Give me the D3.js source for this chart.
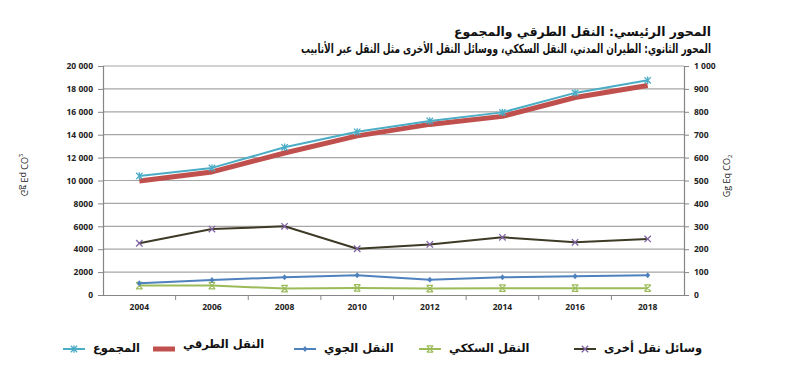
<!DOCTYPE html>
<html>
<head>
<meta charset="utf-8">
<script src="https://cdn.jsdelivr.net/npm/d3@7"></script>
<style>
  body { margin: 0; background: #fff; }
  svg { display: block; font-family: "DejaVu Sans", "Open Sans", sans-serif; }
  .tick text { font-family: "Open Sans", "DejaVu Sans", sans-serif; font-weight: bold; fill: #222; }
</style>
</head>
<body>
<svg id="chart" width="808" height="373"></svg>
<script>
// chart data
var years = ["2004", "2006", "2008", "2010", "2012", "2014", "2016", "2018"];
// primary axis (0 - 20 000)
var totalValues = [10400, 11100, 12900, 14250, 15200, 15950, 17650, 18750];
var roadValues = [9950, 10750, 12400, 13900, 14900, 15600, 17250, 18300];
// secondary axis (0 - 1 000)
var airValues = [51, 66, 77, 86, 67, 77, 82, 86];
var railValues = [41, 41, 28, 31, 28, 30, 30, 30];
var otherValues = [226, 288, 300, 202, 221, 252, 230, 245];

var leftTicks = [0, 2000, 4000, 6000, 8000, 10000, 12000, 14000, 16000, 18000, 20000];
var leftTickLabels = ["0", "2000", "4000", "6000", "8000", "10 000", "12 000", "14 000", "16 000", "18 000", "20 000"];
var rightTicks = [0, 100, 200, 300, 400, 500, 600, 700, 800, 900, 1000];
var rightTickLabels = ["0", "100", "200", "300", "400", "500", "600", "700", "800", "900", "1 000"];

var titleLines = ["المحور الرئيسي: النقل الطرقي والمجموع",
                  "المحور الثانوي: الطيران المدني، النقل السككي،  ووسائل النقل الأخرى مثل النقل عبر الأنابيب"];
var axisTitle = "Gg Eq CO";

var svg = d3.select("#chart");
var plotLeft = 103, plotRight = 684, plotTop = 66, plotBottom = 295;

var x = d3.scaleBand().domain(years).range([plotLeft, plotRight]);
var yL = d3.scaleLinear().domain([0, 20000]).range([plotBottom, plotTop]);
var yR = d3.scaleLinear().domain([0, 1000]).range([plotBottom, plotTop]);
var cx = function(i) { return x(years[i]) + x.bandwidth() / 2; };

//gridlines
svg.append("g").selectAll("line")
    .data(leftTicks.slice(1))
    .enter().append("line")
    .attr("x1", plotLeft).attr("x2", plotRight)
    .attr("y1", function(d) { return yL(d); })
    .attr("y2", function(d) { return yL(d); })
    .attr("stroke", "#a6a6a6").attr("stroke-width", 1.2);

//axes
var gL = svg.append("g").attr("transform", "translate(" + plotLeft + ",0)")
    .call(d3.axisLeft(yL).tickValues(leftTicks).tickSize(5).tickPadding(5)
        .tickFormat(function(d, i) { return leftTickLabels[i]; }));
var gR = svg.append("g").attr("transform", "translate(" + plotRight + ",0)")
    .call(d3.axisRight(yR).tickValues(rightTicks).tickSize(5).tickPadding(5)
        .tickFormat(function(d, i) { return rightTickLabels[i]; }));
var gX = svg.append("g").attr("transform", "translate(0," + plotBottom + ")")
    .call(d3.axisBottom(x).tickSize(0).tickPadding(9));
// category boundary ticks
gX.selectAll(".sep").data(years.slice(1)).enter().append("line")
    .attr("x1", function(d) { return x(d); }).attr("x2", function(d) { return x(d); })
    .attr("y1", 0).attr("y2", 5).attr("stroke", "#868686");
[gL, gR, gX].forEach(function(g) {
    g.select(".domain").attr("stroke", "#868686").attr("stroke-width", 1.2);
    g.selectAll(".tick line").attr("stroke", "#868686");
    g.selectAll(".tick text").attr("font-size", 8.5);
});

//markers
function marker(g, type, color, px, py) {
    var s = 3.2;
    if (type === "star") {
        g.append("path").attr("d", "M" + (px - s) + "," + (py - s) + "L" + (px + s) + "," + (py + s) +
            "M" + (px - s) + "," + (py + s) + "L" + (px + s) + "," + (py - s) +
            "M" + px + "," + (py - s - 0.5) + "L" + px + "," + (py + s + 0.5))
            .attr("stroke", color).attr("stroke-width", 1.3).attr("fill", "none");
    } else if (type === "x") {
        g.append("path").attr("d", "M" + (px - s) + "," + (py - s) + "L" + (px + s) + "," + (py + s) +
            "M" + (px - s) + "," + (py + s) + "L" + (px + s) + "," + (py - s))
            .attr("stroke", color).attr("stroke-width", 1.3).attr("fill", "none");
    } else if (type === "xbar") {
        g.append("path").attr("d", "M" + (px - s) + "," + (py - s) + "L" + (px + s) + "," + (py + s) +
            "M" + (px - s) + "," + (py + s) + "L" + (px + s) + "," + (py - s) +
            "M" + (px - s) + "," + (py - s) + "L" + (px + s) + "," + (py - s) +
            "M" + (px - s) + "," + (py + s) + "L" + (px + s) + "," + (py + s))
            .attr("stroke", color).attr("stroke-width", 1.2).attr("fill", "none");
    } else if (type === "diamond") {
        g.append("path").attr("d", "M" + px + "," + (py - 3) + "L" + (px + 2.5) + "," + py +
            "L" + px + "," + (py + 3) + "L" + (px - 2.5) + "," + py + "Z")
            .attr("fill", color);
    }
}

var series = [
    { name: "وسائل نقل أخرى", values: otherValues, scale: yR, color: "#3d3a26", width: 2, mark: "x", markColor: "#8064a2" },
    { name: "النقل السككي", values: railValues, scale: yR, color: "#9bbb59", width: 2, mark: "xbar", markColor: "#9bbb59" },
    { name: "النقل الجوي", values: airValues, scale: yR, color: "#4f81bd", width: 2, mark: "diamond", markColor: "#4f81bd" },
    { name: "النقل الطرقي", values: roadValues, scale: yL, color: "#c0504d", width: 5, mark: null },
    { name: "المجموع", values: totalValues, scale: yL, color: "#4bacc6", width: 2, mark: "star", markColor: "#4bacc6" }
];

series.forEach(function(s) {
    var line = d3.line()
        .x(function(d, i) { return cx(i); })
        .y(function(d) { return s.scale(d); });
    svg.append("path").datum(s.values)
        .attr("d", line)
        .attr("fill", "none")
        .attr("stroke", s.color)
        .attr("stroke-width", s.width)
        .attr("stroke-linejoin", "round");
    if (s.mark) {
        var g = svg.append("g");
        s.values.forEach(function(v, i) { marker(g, s.mark, s.markColor, cx(i), s.scale(v)); });
    }
});

//titles
var titleWidths = [257, 410];
svg.selectAll(".title").data(titleLines).enter().append("text")
    .attr("x", 711).attr("y", function(d, i) { return 36 + i * 17; })
    .attr("text-anchor", "start").attr("direction", "rtl")
    .attr("font-size", 12.5).attr("font-weight", "bold").attr("fill", "#111")
    .attr("textLength", function(d, i) { return titleWidths[i]; })
    .attr("lengthAdjust", "spacingAndGlyphs")
    .text(function(d) { return d; });

function axisLabel(px, py, mirror) {
    var t = svg.append("text")
        .attr("transform", "translate(" + px + "," + py + ") rotate(-90)" + (mirror ? " scale(1,-1)" : ""))
        .attr("text-anchor", "middle").attr("dy", "0.35em")
        .attr("font-family", "Open Sans, sans-serif")
        .attr("font-size", 9).attr("fill", "#222");
    t.append("tspan").text(axisTitle);
    t.append("tspan").attr("font-size", 6).attr("dy", 2).text("2");
}
axisLabel(24, 175, true);
axisLabel(727, 176, false);

//legend
var legendItems = [
    { s: series[4], x: 63, ty: 348 },
    { s: series[3], x: 153, ty: 344 },
    { s: series[2], x: 294, ty: 348 },
    { s: series[1], x: 419, ty: 348 },
    { s: series[0], x: 574, ty: 348 }
];
legendItems.forEach(function(it) {
    var g = svg.append("g");
    g.append("line").attr("x1", it.x).attr("x2", it.x + 22)
        .attr("y1", 349).attr("y2", 349)
        .attr("stroke", it.s.color).attr("stroke-width", it.s.width);
    if (it.s.mark) marker(g, it.s.mark, it.s.markColor, it.x + 11, 349);
    g.append("text").attr("x", it.x + 30).attr("y", it.ty)
        .attr("dy", "0.35em").attr("direction", "rtl").attr("text-anchor", "end")
        .attr("font-size", 11.5).attr("font-weight", "bold").attr("fill", "#111")
        .text(it.s.name);
});
</script>
</body>
</html>
